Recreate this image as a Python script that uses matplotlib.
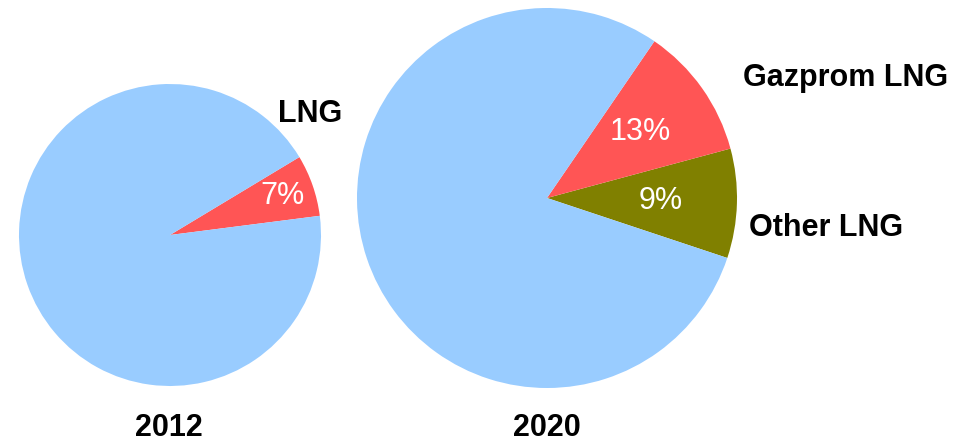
import matplotlib.pyplot as plt
import numpy as np

plt.rcParams['font.family'] = ['Liberation Sans', 'DejaVu Sans']

# shares, labels as printed on the chart
years = ['2012', '2020']
shares_2012 = [6.6, 93.4]
labels_2012 = ['7%', '']
shares_2020 = [9.3, 11.25, 79.45]
labels_2020 = ['9%', '13%', '']

COL_BLUE = '#99ccff'
COL_RED = '#ff5555'
COL_OLIVE = '#808000'

W, H = 957, 443
fig = plt.figure(figsize=(W / 100, H / 100), dpi=100)
fig.patch.set_facecolor('white')


def _pie_axes(cx, cy, r):
    # cx, cy, r in pixels, y measured from the top
    return fig.add_axes([(cx - r) / W, (H - cy - r) / H, 2 * r / W, 2 * r / H])


def _draw_pie(ax, shares, colors, pct_labels, start, dist):
    wedges, _ = ax.pie(shares, colors=colors, startangle=start,
                       counterclock=True, wedgeprops=dict(linewidth=0))
    for w, txt in zip(wedges, pct_labels):
        if not txt:
            continue
        ang = np.deg2rad((w.theta1 + w.theta2) / 2)
        ax.text(dist * np.cos(ang), dist * np.sin(ang), txt, color='white',
                fontsize=22, ha='center', va='center')
    ax.set_xlim(-1, 1)
    ax.set_ylim(-1, 1)
    ax.set_aspect('equal')
    ax.axis('off')


# 2012
ax1 = _pie_axes(170, 235, 151)
_draw_pie(ax1, shares_2012, [COL_RED, COL_BLUE], labels_2012, 7.3, 0.79)
ax1.text(0.93, 0.75, 'LNG', fontsize=22, fontweight='bold',
         ha='center', va='baseline', clip_on=False)
ax1.text(-0.01, -1.33, years[0], fontsize=22, fontweight='bold',
         ha='center', va='baseline', clip_on=False)

# 2020
ax2 = _pie_axes(547, 198, 190)
_draw_pie(ax2, shares_2020, [COL_OLIVE, COL_RED, COL_BLUE], labels_2020,
          -18.4, 0.6)
ax2.text(1.57, 0.59, 'Gazprom LNG', fontsize=22, fontweight='bold',
         ha='center', va='baseline', clip_on=False)
ax2.text(1.47, -0.2, 'Other LNG', fontsize=22, fontweight='bold',
         ha='center', va='baseline', clip_on=False)
ax2.text(0.0, -1.253, years[1], fontsize=22, fontweight='bold',
         ha='center', va='baseline', clip_on=False)

fig.savefig('out.png', dpi=100, facecolor='white')
